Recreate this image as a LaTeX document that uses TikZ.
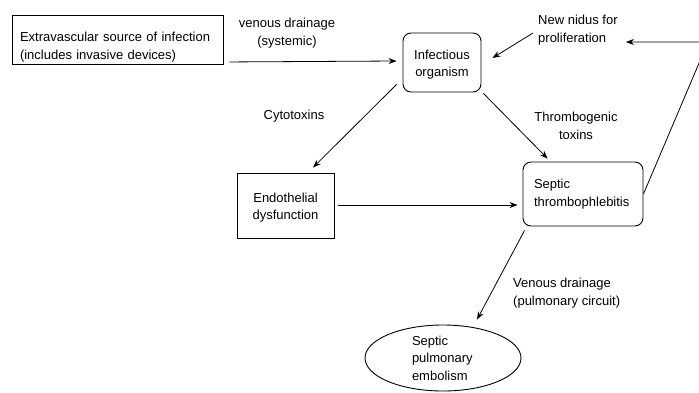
\documentclass[tikz,border=0pt]{standalone}
\usepackage{fontspec}
\setmainfont{Liberation Sans}
\usetikzlibrary{shapes.geometric,arrows.meta,calc}
\begin{document}
\begin{tikzpicture}[x=1pt,y=-1pt,
  every node/.style={font=\fontsize{13}{17.5}\selectfont},
  box/.style={draw,line width=0.9pt,inner sep=0pt},
  arr/.style={draw,line width=0.8pt,-{Stealth[length=8pt,width=6pt]}},
  lbl/.style={inner sep=0pt,align=center}]
\useasboundingbox (0,0) rectangle (699,392);
\clip (0,0) rectangle (699,392);
% boxes
\node[box,minimum width=211pt,minimum height=49pt,text width=195pt,inner xsep=8pt,text height=24pt,align=left] (src) at (117.5,40) {Extravascular source of infection\\(includes invasive devices)};
\node[box,rounded corners=8pt,minimum width=78pt,minimum height=59pt,text height=31pt,align=center] (org) at (442,62.5) {Infectious\\organism};
\node[box,minimum width=97pt,minimum height=65pt,text height=31pt,align=center] (endo) at (285.5,205.5) {Endothelial\\dysfunction};
\node[box,rounded corners=8pt,minimum width=120pt,minimum height=64pt,text width=98pt,inner xsep=11pt,align=left] (thr) at (583,194) {Septic\\thrombophlebitis};
\node[box,ellipse,minimum width=156pt,minimum height=66pt,text width=62pt,align=left] (emb) at (443,358) {Septic\\pulmonary\\embolism};
% labels
\node[lbl] (l1) at (287,33) {venous drainage\\(systemic)};
\node[lbl] (l2) at (294,116) {Cytotoxins};
\node[lbl,align=left,anchor=west] (nidus) at (538,30) {New nidus for\\proliferation};
\node[lbl] (l3) at (576,126) {Thrombogenic\\toxins};
\node[lbl,align=left,anchor=west] (l4) at (513,293) {Venous drainage\\(pulmonary circuit)};
% connectors
\draw[arr] ($(src.south east)+(6,-3)$) -- ($(org.west)+(-6,-1.5)$);
\draw[arr] ($(org.south west)+(-6,-8)$) -- ($(endo.north)+(27.5,-5)$);
\draw[arr] ($(org.south east)+(2,1)$) -- ($(thr.north west)+(25,-3)$);
\draw[arr] ($(nidus.west)+(-5,3)$) -- ($(org.east)+(11,-4.5)$);
\draw[arr] ($(endo.east)+(4,-0.5)$) -- ($(thr.west)+(-5,11)$);
\draw[arr] ($(thr.south west)+(2,4)$) -- ($(emb.north)+(34,-5)$);
\coordinate (corner) at (708,42);
\draw[arr] (thr.east) -- (corner) -- ($(nidus.east)+(8,12)$);
\end{tikzpicture}
\end{document}
